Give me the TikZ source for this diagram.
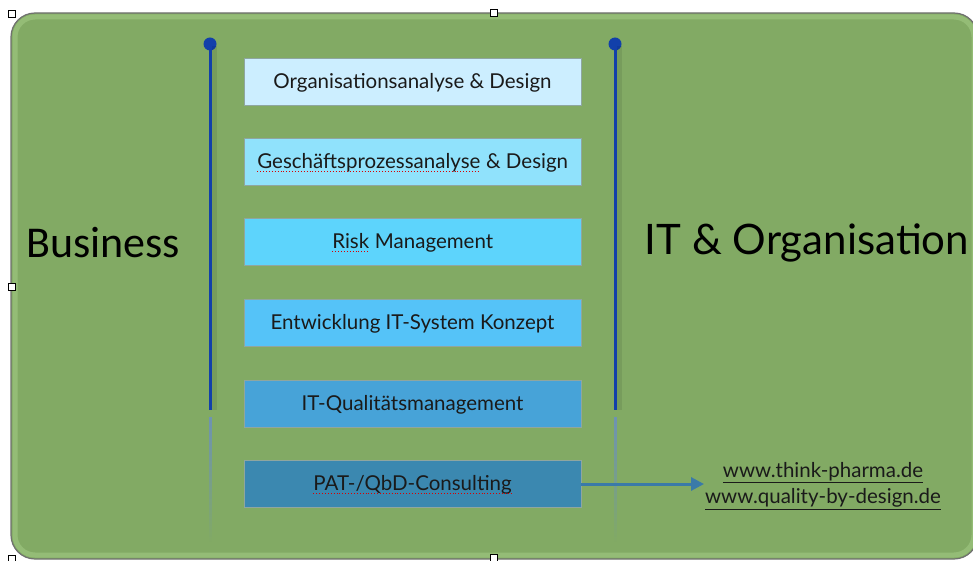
\documentclass[tikz,border=0pt]{standalone}
\usepackage{fontspec}
\setmainfont{Lato}
\newfontfamily\bizfont{Carlito}
\usetikzlibrary{fadings,arrows.meta}
\definecolor{bggreen}{HTML}{82AA64}
\definecolor{glowgreen}{HTML}{A4CC86}
\definecolor{frameg}{HTML}{707070}
\definecolor{lineblue}{HTML}{1240AA}
\definecolor{fadeblue}{HTML}{6E93B4}
\definecolor{boxedge}{HTML}{8FA6A0}
\definecolor{txt}{HTML}{1A1A1A}
\definecolor{cA}{HTML}{CCEEFF}
\definecolor{cB}{HTML}{90E2FC}
\definecolor{cC}{HTML}{5DD4FC}
\definecolor{cD}{HTML}{55C3F8}
\definecolor{cE}{HTML}{47A3D8}
\definecolor{cF}{HTML}{3B88B0}
\definecolor{arrowc}{HTML}{3A7AA8}
\newcommand\spl[1]{\tikz[baseline=(sw.base)]{\node[inner sep=0pt,outer sep=0pt,minimum width=0pt,minimum height=0pt,draw=none,fill=none](sw){#1};\draw[red!85!black, dotted, line width=0.9pt] ([yshift=-3pt]sw.base west) -- ([yshift=-3pt]sw.base east);}}
\begin{document}
\begin{tikzpicture}[x=1pt,y=-1pt,
  box/.style={draw=boxedge, line width=0.6pt, minimum width=337pt, minimum height=47pt, inner sep=0pt, font=\fontsize{20.5}{24}\selectfont, text=txt, text depth=2pt},
  dotnode/.style={circle, fill=lineblue, inner sep=0pt, minimum size=13pt},
  vline/.style={lineblue, line width=3pt},
  vshadow/.style={black, opacity=0.08, line width=6pt},
  handle/.style={draw=black, fill=white, line width=0.7pt, minimum size=7pt, inner sep=0pt},
  bigtext/.style={text=black}]
\useasboundingbox (0,0) rectangle (973,561);
\fill[white] (0,0) rectangle (973,561);
% main panel
\begin{scope}
\clip (0,0) rectangle (973,561);
\draw[frameg, fill=bggreen, line width=1.2pt, rounded corners=24pt] (11,13) rectangle (978,559);
\draw[glowgreen, opacity=0.55, line width=5pt, rounded corners=20pt] (15,17) rectangle (974,555);
\end{scope}
% vertical lines
\node[dotnode] (dl) at (210,44) {};
\node[dotnode] (dr) at (615,44) {};
\coordinate (el) at (210,410);
\coordinate (er) at (615,410);
\draw[vshadow] ([xshift=4pt,yshift=-2pt]dr.center) -- ([xshift=4pt]er);
\draw[vshadow] ([xshift=4pt,yshift=-2pt]dl.center) -- ([xshift=4pt]el);
\draw[vline] (dl.center) -- (el);
\draw[vline] (dr.center) -- (er);
\fill[fadeblue, path fading=south] (208.5,417) rectangle (211.5,542);
\fill[fadeblue, path fading=south] (613.5,417) rectangle (616.5,542);
% boxes
\node[box, fill=cA] (b1) at (412.5,81.5) {Organisationsanalyse \& Design};
\node[box, fill=cB] (b2) at (412.5,161.5) {\spl{Geschäftsprozessanalyse} \& Design};
\node[box, fill=cC] (b3) at (412.5,242) {\spl{Risk} Management};
\node[box, fill=cD] (b4) at (412.5,323) {Entwicklung IT-System Konzept};
\node[box, fill=cE] (b5) at (412.5,403.5) {IT-Qualitätsmanagement};
\node[box, fill=cF] (b6) at (412.5,484) {\spl{PAT-/QbD-Consulting}};
% side labels
\node[bigtext, font=\bizfont\fontsize{44}{50}\selectfont] (biz) at (103,243) {Business};
\node[bigtext, font=\fontsize{42}{48}\selectfont] (ito) at (807,243) {IT \& Organisation};
% arrow and links
\coordinate (ae) at (704,484);
\draw[arrowc, line width=3pt, -{Triangle[length=13pt,width=13pt]}] (b6.east) -- (ae);
\node[text=txt, font=\fontsize{20.5}{26}\selectfont, align=center] (urls) at (823,486) {\underline{www.think-pharma.de}\\\underline{www.quality-by-design.de}};
% selection handles
\node[handle] (h1) at (12,14) {};
\node[handle] (h2) at (494,13) {};
\node[handle] (h3) at (12,287) {};
\node[handle] (h4) at (494,558) {};
\node[handle] (h5) at (12,559) {};
\end{tikzpicture}
\end{document}
